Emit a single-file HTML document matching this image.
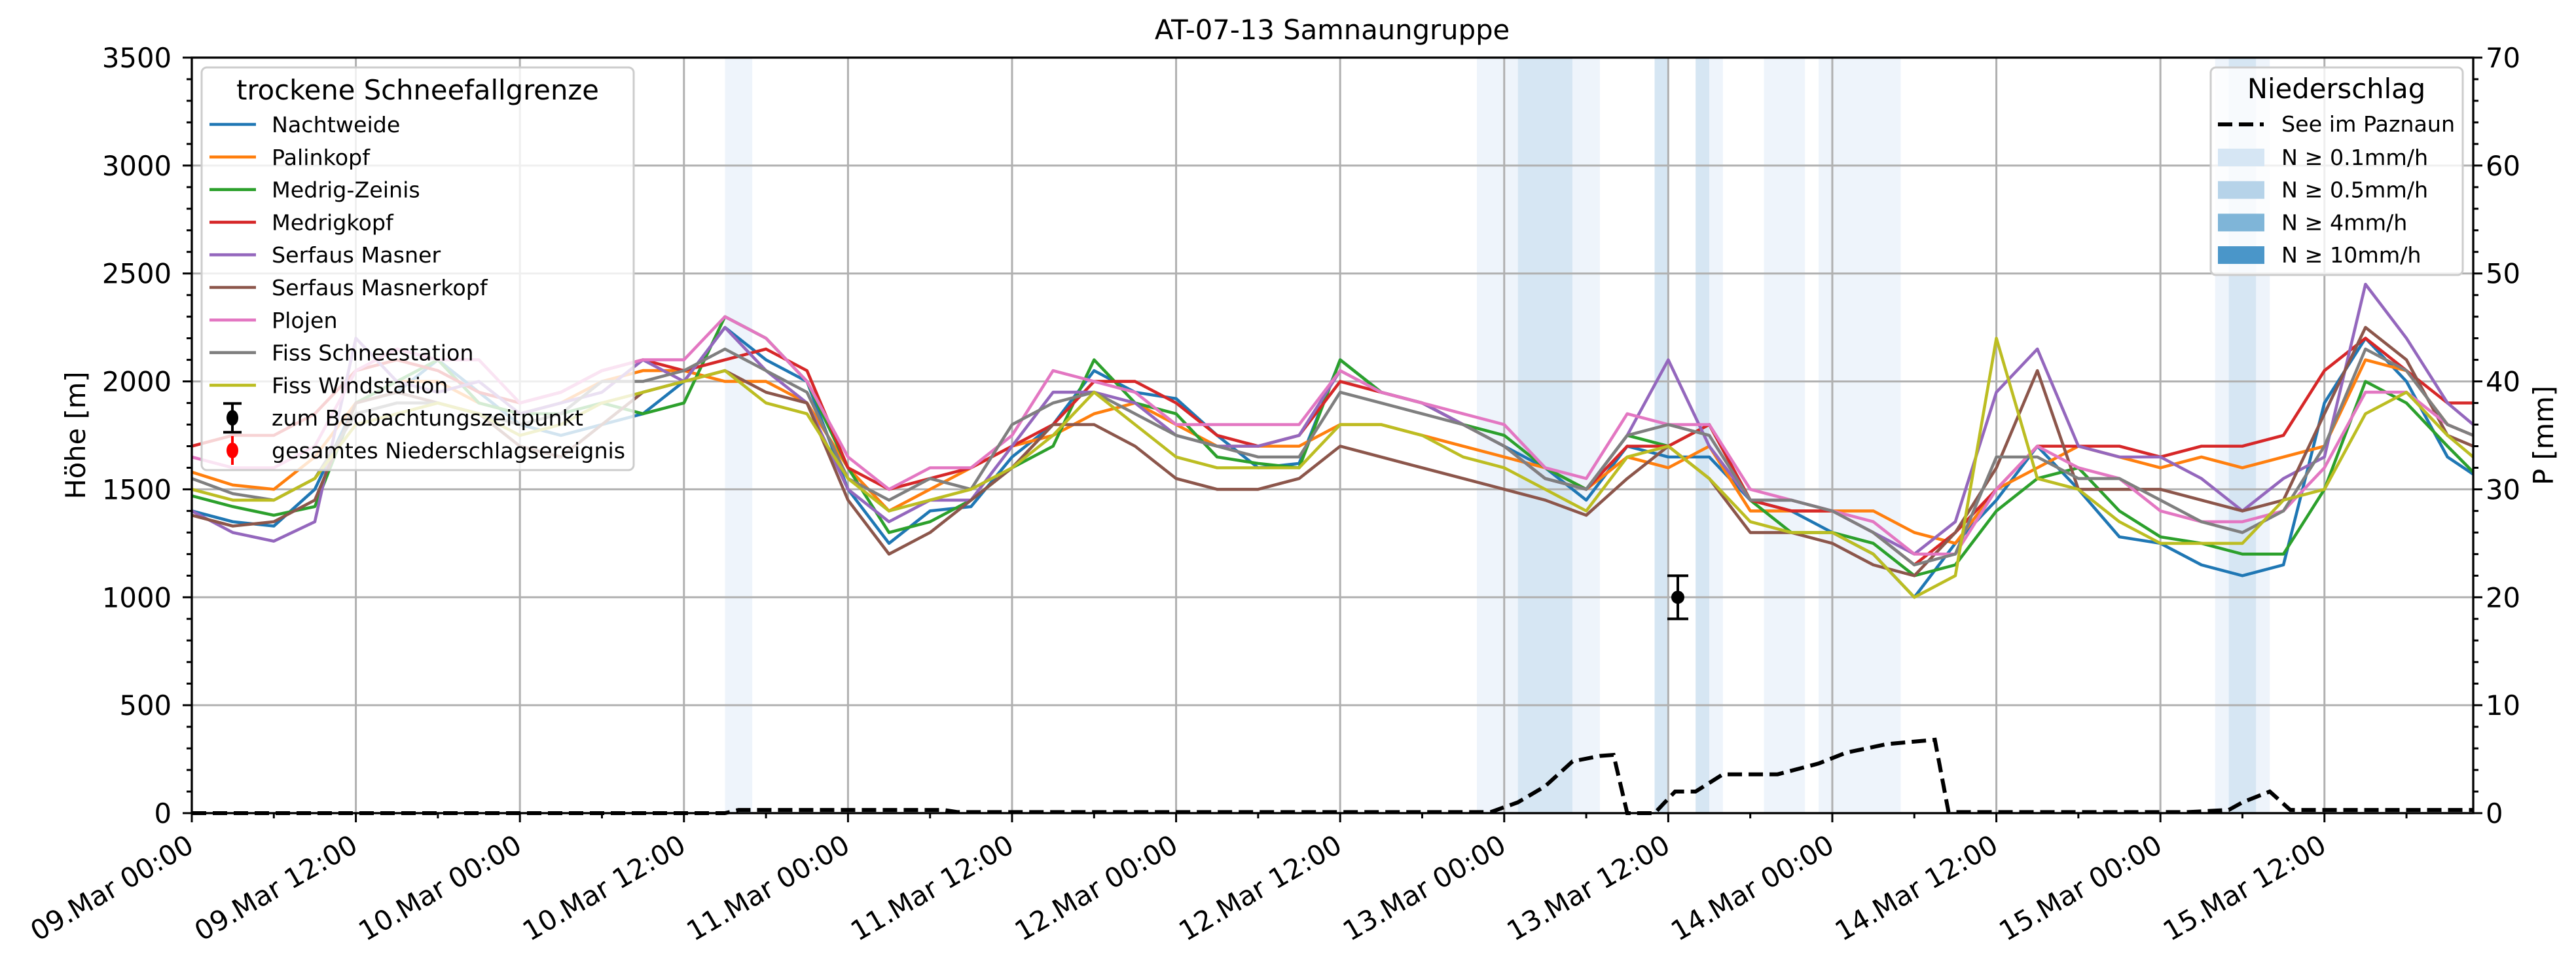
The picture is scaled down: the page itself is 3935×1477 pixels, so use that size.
<!DOCTYPE html>
<html><head><meta charset="utf-8"><title>AT-07-13 Samnaungruppe</title>
<style>
html,body{margin:0;padding:0;background:#fff;}
svg{display:block;font-family:"DejaVu Sans","Liberation Sans",sans-serif;}
</style></head>
<body>
<svg id="chart" xmlns="http://www.w3.org/2000/svg" width="3935" height="1477" viewBox="0 0 3935 1477">
<rect x="0" y="0" width="3935" height="1477" fill="#fff"/>
<text x="2035" y="60" font-size="41.7" text-anchor="middle">AT-07-13 Samnaungruppe</text>
<g id="bands"></g><g id="grid"></g><g id="series"></g><g id="precip"></g><g id="obs"></g><g id="axes"></g><g id="legends"></g>
</svg>
<script>
// ---- data ----
const hours = [0,3,6,9,12,15,18,21,24,27,30,33,36,39,42,45,48,51,54,57,60,63,66,69,72,75,78,81,84,87,90,93,96,99,102,105,108,111,114,117,120,123,126,129,132,135,138,141,144,147,150,153,156,159,162,165,168];
const seriesNames = ["Nachtweide","Palinkopf","Medrig-Zeinis","Medrigkopf","Serfaus Masner","Serfaus Masnerkopf","Plojen","Fiss Schneestation","Fiss Windstation"];
const nachtweide = [1400,1350,1330,1500,1900,1950,2100,1950,1800,1750,1800,1850,2000,2250,2100,2000,1500,1250,1400,1420,1650,1800,2050,1950,1920,1750,1600,1620,2100,1950,1900,1800,1700,1600,1450,1700,1650,1650,1450,1400,1300,1200,1000,1250,1450,1700,1500,1280,1250,1150,1100,1150,1900,2200,2000,1650,1570];
const palinkopf = [1580,1520,1500,1650,1900,2000,2000,1900,1850,1900,2000,2050,2050,2000,2000,1900,1600,1400,1500,1600,1700,1750,1850,1900,1800,1700,1700,1700,1800,1800,1750,1700,1650,1600,1500,1650,1600,1700,1400,1400,1400,1400,1300,1250,1500,1600,1700,1650,1600,1650,1600,1650,1700,2100,2050,1800,1750];
const medrigZeinis = [1470,1420,1380,1420,1900,2000,2100,1900,1850,1850,1900,1850,1900,2300,2200,2000,1600,1300,1350,1450,1600,1700,2100,1900,1850,1650,1620,1600,2100,1950,1900,1800,1750,1600,1500,1750,1700,1800,1450,1300,1300,1250,1100,1150,1400,1550,1600,1400,1280,1250,1200,1200,1500,2000,1900,1700,1580];
const medrigkopf = [1700,1750,1750,1850,2050,2100,2050,1950,1900,1950,2050,2100,2050,2100,2150,2050,1600,1500,1550,1600,1700,1800,2000,2000,1900,1750,1700,1750,2000,1950,1900,1800,1700,1550,1500,1700,1700,1800,1450,1400,1400,1300,1150,1300,1500,1700,1700,1700,1650,1700,1700,1750,2050,2200,2050,1900,1900];
const serfausMasner = [1400,1300,1260,1350,2200,2000,1950,2000,1850,1900,1950,2100,2000,2250,2050,1900,1500,1350,1450,1450,1700,1950,1950,1900,1750,1700,1700,1750,2050,1950,1900,1800,1700,1550,1500,1750,2100,1700,1450,1450,1400,1300,1200,1350,1950,2150,1700,1650,1650,1550,1400,1550,1650,2450,2200,1900,1800];
const serfausMasnerkopf = [1380,1330,1350,1450,1900,1950,1900,1850,1700,1650,1800,1950,2000,2050,1950,1900,1450,1200,1300,1450,1600,1800,1800,1700,1550,1500,1500,1550,1700,1650,1600,1550,1500,1450,1380,1550,1700,1550,1300,1300,1250,1150,1100,1300,1600,2050,1500,1500,1500,1450,1400,1450,1850,2250,2100,1750,1700];
const plojen = [1650,1600,1600,1700,2050,2150,2100,2100,1900,1950,2050,2100,2100,2300,2200,2000,1650,1500,1600,1600,1750,2050,2000,1950,1800,1800,1800,1800,2050,1950,1900,1850,1800,1600,1550,1850,1800,1800,1500,1450,1400,1350,1200,1200,1500,1700,1600,1550,1400,1350,1350,1400,1600,1950,1950,1800,1750];
const fissSchneestation = [1550,1480,1450,1550,1850,1900,1900,1850,1800,1850,2000,2000,2050,2150,2050,1950,1550,1450,1550,1500,1800,1900,1950,1850,1750,1700,1650,1650,1950,1900,1850,1800,1700,1550,1500,1750,1800,1750,1450,1450,1400,1300,1150,1200,1650,1650,1550,1550,1450,1350,1300,1400,1700,2150,2050,1800,1750];
const fissWindstation = [1500,1450,1450,1550,1800,1850,1900,1850,1750,1800,1900,1950,2000,2050,1900,1850,1550,1400,1450,1500,1600,1750,1950,1800,1650,1600,1600,1600,1800,1800,1750,1650,1600,1500,1400,1650,1700,1550,1350,1300,1300,1200,1000,1100,2200,1550,1500,1350,1250,1250,1250,1450,1500,1850,1950,1750,1650];
const precipHours = [0,39,40,55,56,95,97,99,101,103,104,105,107,108.5,110,112,116,119,121,124,127.5,128.5,146,149,150,152,153.5,167];
const precipValues = [0,0,0.3,0.3,0.1,0.1,1,2.5,4.8,5.3,5.4,0,0,2,2,3.6,3.6,4.6,5.6,6.4,6.8,0.1,0.1,0.3,1,2,0.3,0.3];
const bandStart = [39,94,97,101,107,110,111,115,119,148,149,151];
const bandEnd = [41,97,101,103,108,111,112,118,125,149,151,152];
const bandLevel = [1,1,2,1,2,2,1,1,1,1,2,1];
const obsHour = [108.7];
const obsValue = [1000];
const obsErr = [100];
const yTicks = [0,500,1000,1500,2000,2500,3000,3500];
const y2Ticks = [0,10,20,30,40,50,60,70];
const xTickLabels = ["09.Mar 00:00","09.Mar 12:00","10.Mar 00:00","10.Mar 12:00","11.Mar 00:00","11.Mar 12:00","12.Mar 00:00","12.Mar 12:00","13.Mar 00:00","13.Mar 12:00","14.Mar 00:00","14.Mar 12:00","15.Mar 00:00","15.Mar 12:00"];

// ---- scales ----
const L=293, R=3778, T=88, B=1242;
const HMAX=(R-L)/20.883;
const X=h=>L+h*20.883;
const Y=v=>B-v*(B-T)/3500;
const Y2=p=>B-p*(B-T)/70;
const NS="http://www.w3.org/2000/svg";
function mk(tag,attrs,parent){const e=document.createElementNS(NS,tag);for(const k in attrs)e.setAttribute(k,attrs[k]);parent.appendChild(e);return e;}
const G=id=>document.getElementById(id);

// bands
const bandColors={1:"#eef4fb",2:"#d6e6f3"};
bandStart.forEach((s,i)=>{
  const r=mk("rect",{x:X(s),y:T,width:X(bandEnd[i])-X(s),height:B-T,fill:bandColors[bandLevel[i]]},G("bands"));
  
  
});
// grid
for(let k=0;k<xTickLabels.length;k++){
  const g=mk("line",{x1:X(k*12),x2:X(k*12),y1:T,y2:B,stroke:"#b0b0b0","stroke-width":3},G("grid"));
  
  
}
yTicks.forEach(v=>{
  const g=mk("line",{x1:L,x2:R,y1:Y(v),y2:Y(v),stroke:"#b0b0b0","stroke-width":3},G("grid"));
  
  
});
// series
const colors=["#1f77b4","#ff7f0e","#2ca02c","#d62728","#9467bd","#8c564b","#e377c2","#7f7f7f","#bcbd22"];
const allSeries=[nachtweide,palinkopf,medrigZeinis,medrigkopf,serfausMasner,serfausMasnerkopf,plojen,fissSchneestation,fissWindstation];
allSeries.forEach((arr,si)=>{
  const pts=[];
  arr.forEach((v,i)=>{const h=Math.min(hours[i],HMAX);pts.push(X(h).toFixed(1)+","+Y(v).toFixed(1));});
  const p=mk("polyline",{points:pts.join(" "),fill:"none",stroke:colors[si],"stroke-width":4.6,"stroke-linejoin":"round"},G("series"));
  
  
});
// precip dashed
{
  const pts=precipHours.map((h,i)=>X(Math.min(h,HMAX)).toFixed(1)+","+Y2(precipValues[i]).toFixed(1));
  const p=mk("polyline",{points:pts.join(" "),fill:"none",stroke:"#000","stroke-width":6,"stroke-dasharray":"22 10"},G("precip"));
  
  
}
// observation errorbar
obsHour.forEach((h,i)=>{
  const x=X(h),y=Y(obsValue[i]),e=(B-T)/3500*obsErr[i];
  const g=mk("g",{},G("obs"));
  
  
  mk("line",{x1:x,x2:x,y1:y-e,y2:y+e,stroke:"#000","stroke-width":4},g);
  mk("line",{x1:x-16,x2:x+16,y1:y-e,y2:y-e,stroke:"#000","stroke-width":4},g);
  mk("line",{x1:x-16,x2:x+16,y1:y+e,y2:y+e,stroke:"#000","stroke-width":4},g);
  mk("circle",{cx:x,cy:y,r:10,fill:"#000"},g);
});
// axes
const ax=G("axes");
mk("rect",{x:L,y:T,width:R-L,height:B-T,fill:"none",stroke:"#000","stroke-width":3.3},ax);
for(let h=0;h<=HMAX;h+=6){
  const major=h%12===0;
  mk("line",{x1:X(h),x2:X(h),y1:B,y2:B+(major?14:8),stroke:"#000","stroke-width":3},ax);
}
xTickLabels.forEach((lab,k)=>{
  const tx=X(k*12)-10, ty=1272;
  const t=mk("text",{x:tx,y:ty,"font-size":41.7,"text-anchor":"end","dominant-baseline":"hanging",transform:`rotate(-30 ${tx} ${ty})`},ax);
  t.textContent=lab;
  
  
});
for(let v=0;v<=3500;v+=100){
  const major=v%500===0;
  mk("line",{x1:L,x2:L-(major?14:8),y1:Y(v),y2:Y(v),stroke:"#000","stroke-width":3},ax);
}
yTicks.forEach(v=>{
  const t=mk("text",{x:262,y:Y(v)+15,"font-size":41.7,"text-anchor":"end"},ax);
  t.textContent=v;
  
  
});
for(let p=0;p<=70;p+=2){
  const major=p%10===0;
  mk("line",{x1:R,x2:R+(major?14:8),y1:Y2(p),y2:Y2(p),stroke:"#000","stroke-width":3},ax);
}
y2Ticks.forEach(p=>{
  const t=mk("text",{x:3797,y:Y2(p)+15,"font-size":41.7,"text-anchor":"start"},ax);
  t.textContent=p;
  
  
});
{
  const t=mk("text",{x:0,y:0,"font-size":41.7,"text-anchor":"middle",transform:"translate(130 665) rotate(-90)"},ax);
  t.textContent="Höhe [m]";
  
  
  const t2=mk("text",{x:0,y:0,"font-size":41.7,"text-anchor":"middle",transform:"translate(3900 665) rotate(-90)"},ax);
  t2.textContent="P [mm]";
  
  
}
// legends
const lg=G("legends");
{
  const g=mk("g",{},lg);
  
  
  mk("rect",{x:308,y:103,width:660,height:615,rx:8,fill:"rgba(255,255,255,0.8)",stroke:"#cccccc","stroke-width":3},g);
  const tt=mk("text",{x:638,y:152,"font-size":41.7,"text-anchor":"middle"},g);
  tt.textContent="trockene Schneefallgrenze";
  seriesNames.forEach((n,i)=>{
    const cy=190+i*49.8;
    const e=mk("g",{},g);
    
    
    mk("line",{x1:320,x2:391,y1:cy,y2:cy,stroke:colors[i],"stroke-width":4.6},e);
    const t=mk("text",{x:415,y:cy+12,"font-size":33.3},e);t.textContent=n;
  });
  const eb=[["zum Beobachtungszeitpunkt","#000"],["gesamtes Niederschlagsereignis","#ff0000"]];
  eb.forEach((d,j)=>{
    const cy=190+(9+j)*49.8;
    const e=mk("g",{},g);
    
    
    mk("line",{x1:355,x2:355,y1:cy-22,y2:cy+22,stroke:d[1],"stroke-width":4},e);
    if(j===0){mk("line",{x1:341,x2:369,y1:cy-22,y2:cy-22,stroke:d[1],"stroke-width":4},e);mk("line",{x1:341,x2:369,y1:cy+22,y2:cy+22,stroke:d[1],"stroke-width":4},e);}
    mk("ellipse",{cx:355,cy:cy,rx:9,ry:12,fill:d[1]},e);
    const t=mk("text",{x:415,y:cy+12,"font-size":33.3},e);t.textContent=d[0];
  });
}
{
  const g=mk("g",{},lg);
  
  
  mk("rect",{x:3377,y:103,width:385,height:317,rx:8,fill:"rgba(255,255,255,0.8)",stroke:"#cccccc","stroke-width":3},g);
  const tt=mk("text",{x:3569,y:150,"font-size":41.7,"text-anchor":"middle"},g);
  tt.textContent="Niederschlag";
  const e0=mk("g",{},g);
  
  
  mk("line",{x1:3388,x2:3458,y1:190,y2:190,stroke:"#000","stroke-width":6,"stroke-dasharray":"22 10"},e0);
  const t0=mk("text",{x:3485,y:201,"font-size":33.3},e0);t0.textContent="See im Paznaun";
  const sw=[["#d6e6f4","N ≥ 0.1mm/h"],["#b6d3e9","N ≥ 0.5mm/h"],["#7fb5d8","N ≥ 4mm/h"],["#4a96c9","N ≥ 10mm/h"]];
  sw.forEach((d,i)=>{
    const cy=240+i*49.7;
    const e=mk("g",{},g);
    
    
    mk("rect",{x:3388,y:cy-13,width:71,height:27,fill:d[0]},e);
    const t=mk("text",{x:3485,y:cy+12,"font-size":33.3},e);t.textContent=d[1];
  });
}
</script>
</body></html>
